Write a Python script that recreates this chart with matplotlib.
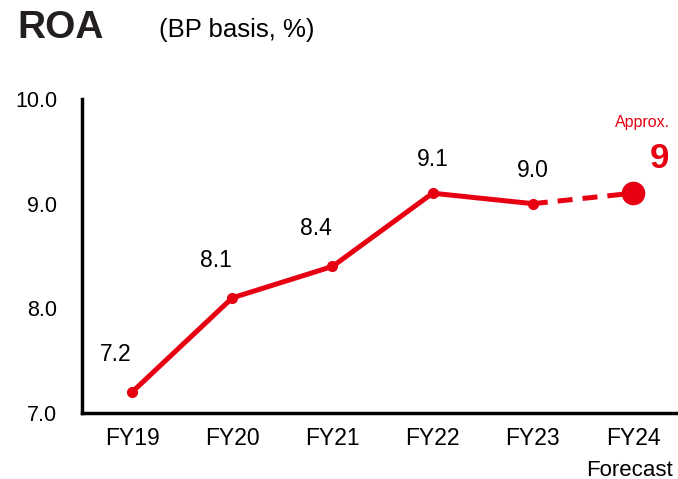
import numpy as np
import matplotlib.pyplot as plt

years = ['FY19', 'FY20', 'FY21', 'FY22', 'FY23', 'FY24']
roa = [7.2, 8.1, 8.4, 9.1, 9.0, 9.1]
labels = ['7.2', '8.1', '8.4', '9.1', '9.0']
yticks = [7.0, 8.0, 9.0, 10.0]

red = '#e60012'
plt.rcParams['font.family'] = ['Liberation Sans', 'DejaVu Sans']

fig = plt.figure(figsize=(6.78, 4.79), dpi=100)
ax = fig.add_axes([0.121, 0.1378, 0.879, 0.6555])
x = np.arange(len(years))

# actual results
ax.plot(x[:5], roa[:5], color=red, lw=3.6, marker='o', ms=7, solid_capstyle='round', zorder=3)
# forecast segment
ax.plot(x[4:], roa[4:], color=red, lw=3.6, ls=(0, (3, 2)), zorder=2)
ax.plot(x[5], roa[5], 'o', color=red, ms=16, zorder=4)

offs = [(-12, 27), (-12, 27), (-12, 27), (0, 24), (0, 24)]
for i, lab in enumerate(labels):
    ax.annotate(lab, (x[i], roa[i]), xytext=offs[i], textcoords='offset points',
                ha='center', va='center', fontsize=16.5)

ax.annotate('Approx.', (x[5], roa[5]), xytext=(7, 51), textcoords='offset points',
            ha='center', va='center', fontsize=11.5, color=red)
ax.annotate('9', (x[5], roa[5]), xytext=(19, 25), textcoords='offset points',
            ha='center', va='center', fontsize=25, color=red, fontweight='bold')

ax.set_xlim(-0.5, 5.45)
ax.set_ylim(7.0, 10.0)
ax.set_xticks(x)
ax.set_xticklabels(years, fontsize=16.5)
ax.set_yticks(yticks)
ax.set_yticklabels(['%.1f' % v for v in yticks], fontsize=15.5)
ax.tick_params(length=0, pad=10)
ax.tick_params(axis='y', pad=18)
for s in ['top', 'right']:
    ax.spines[s].set_visible(False)
for s in ['left', 'bottom']:
    ax.spines[s].set_linewidth(2.5)

fig.text(629 / 678, 1 - 470 / 479, 'Forecast', ha='center', va='center', fontsize=16)
fig.text(17 / 678, 1 - 28 / 479, 'ROA', ha='left', va='center', fontsize=28, fontweight='bold', color='#231f20')
fig.text(159 / 678, 1 - 30 / 479, '(BP basis, %)', ha='left', va='center', fontsize=18.5)

fig.savefig('out.png', dpi=100)
